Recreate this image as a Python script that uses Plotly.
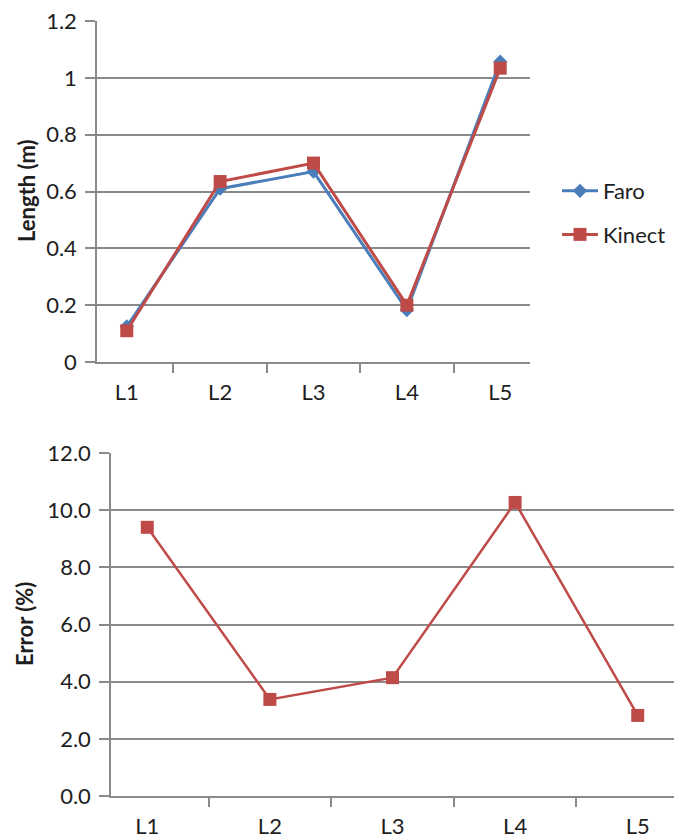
import plotly.graph_objects as go

# Segment labels
segments = ["L1", "L2", "L3", "L4", "L5"]

# Measured lengths (m)
faro_length = [0.125, 0.61, 0.67, 0.183, 1.057]
kinect_length = [0.11, 0.635, 0.70, 0.20, 1.034]

# Kinect error relative to Faro (%)
kinect_error = [9.4, 3.38, 4.14, 10.27, 2.82]

W, H = 681, 839
BLUE = "#4A7EBB"
RED = "#BE4B48"
GRID = "#8A8A8A"
FONT = "Lato, 'Open Sans', sans-serif"
TXT = "#1E1E1E"
FS = 22

fig = go.Figure()

fig.add_trace(go.Scatter(
    x=segments, y=faro_length, name="Faro", mode="lines+markers",
    legendgroup="faro",
    line=dict(color=BLUE, width=3),
    marker=dict(symbol="diamond", size=11, color=BLUE),
    xaxis="x", yaxis="y",
))
fig.add_trace(go.Scatter(
    x=segments, y=kinect_length, name="Kinect", mode="lines+markers",
    legendgroup="kinect",
    line=dict(color=RED, width=3),
    marker=dict(symbol="square", size=13, color=RED),
    xaxis="x", yaxis="y",
))
fig.add_trace(go.Scatter(
    x=segments, y=kinect_error, name="Error", mode="lines+markers",
    line=dict(color=RED, width=2.5),
    marker=dict(symbol="square", size=13, color=RED),
    xaxis="x2", yaxis="y2", showlegend=False,
))


def px_x(p):
    return p / W


def px_y(p):
    return 1 - p / H


common_x = dict(
    type="category", tickson="boundaries", ticks="outside", ticklen=9,
    tickwidth=1.5, tickcolor=GRID, showline=True, linecolor=GRID, linewidth=1.5,
    showgrid=False, tickfont=dict(size=FS, color=TXT, family=FONT),
    ticklabelstandoff=10, fixedrange=True, automargin=False,
)
common_y = dict(
    ticks="outside", ticklen=10, tickwidth=1.5, tickcolor=GRID,
    showline=True, linecolor=GRID, linewidth=1.5,
    showgrid=True, gridcolor=GRID, gridwidth=1.5, zeroline=False,
    tickfont=dict(size=FS, color=TXT, family=FONT), ticklabelstandoff=4,
    fixedrange=True, automargin=False,
)

fig.update_layout(
    width=W, height=H,
    margin=dict(l=0, r=0, t=0, b=0, autoexpand=False),
    paper_bgcolor="white", plot_bgcolor="white",
    font=dict(family=FONT, color=TXT),
    xaxis=dict(common_x, domain=[px_x(97), px_x(530)], anchor="y"),
    yaxis=dict(common_y, domain=[px_y(362), px_y(21)], range=[0, 1.2],
               dtick=0.2, anchor="x"),
    xaxis2=dict(common_x, domain=[px_x(111), px_x(674)], anchor="y2"),
    yaxis2=dict(common_y, domain=[px_y(796), px_y(453)], range=[0, 12],
                dtick=2, tickformat=".1f", anchor="x2"),
    legend=dict(
        x=px_x(557), y=px_y(213), xanchor="left", yanchor="middle",
        font=dict(size=FS, color=TXT, family=FONT),
        bgcolor="rgba(0,0,0,0)", tracegroupgap=12, itemwidth=36,
    ),
    showlegend=True,
    annotations=[
        dict(text="<b>Length (m)</b>", x=px_x(27), y=px_y(191), xref="paper",
             yref="paper", xanchor="center", yanchor="middle", textangle=-90,
             showarrow=False, font=dict(size=FS, color=TXT, family=FONT)),
        dict(text="<b>Error (%)</b>", x=px_x(24), y=px_y(624), xref="paper",
             yref="paper", xanchor="center", yanchor="middle", textangle=-90,
             showarrow=False, font=dict(size=FS, color=TXT, family=FONT)),
    ],
)

fig.write_html("out.html")
